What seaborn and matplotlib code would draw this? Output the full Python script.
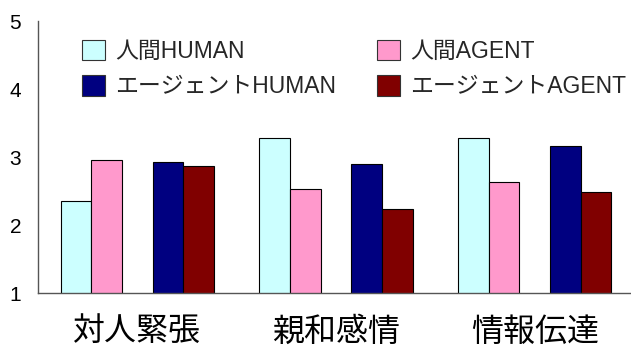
import matplotlib
matplotlib.use("Agg")
import matplotlib.pyplot as plt
import seaborn as sns
import pandas as pd
from matplotlib.patches import Patch
from matplotlib.ticker import MultipleLocator

categories = ["対人緊張", "親和感情", "情報伝達"]
series = ["人間HUMAN", "人間AGENT", "エージェントHUMAN", "エージェントAGENT"]
human_human = [2.35, 3.28, 3.28]
human_agent = [2.96, 2.54, 2.64]
agent_human = [2.93, 2.90, 3.16]
agent_agent = [2.87, 2.24, 2.49]
colors = ["#CCFFFF", "#FF99CC", "#000080", "#800000"]

sns.set_style("white")
plt.rcParams['font.family'] = ['Liberation Sans', 'Noto Sans CJK JP', 'DejaVu Sans']

rows = []
for s, vals in zip(series, [human_human, human_agent, agent_human, agent_agent]):
    for c, v in zip(categories, vals):
        rows.append({"cat": c, "series": s, "value": v})
df = pd.DataFrame(rows)

gap = " "
hue_order = [series[0], series[1], gap, series[2], series[3]]
palette = {series[0]: colors[0], series[1]: colors[1], gap: "white",
           series[2]: colors[2], series[3]: colors[3]}

fig = plt.figure(figsize=(6.31, 3.47), dpi=100)
ax = fig.add_axes([0.060, 0.155, 0.945, 0.7836])

sns.barplot(data=df, x="cat", y="value", hue="series", hue_order=hue_order,
            order=categories, palette=palette, width=0.77, ax=ax,
            edgecolor="black", linewidth=0.8, legend=False, saturation=1)
ax.set_ylim(1, 5)
ax.set_xlim(-0.5, 2.5)
ax.yaxis.set_major_locator(MultipleLocator(1))
ax.yaxis.set_minor_locator(MultipleLocator(0.5))
ax.set_xticks([0, 1, 2])
ax.set_xticklabels(categories, fontsize=23, color="black",
                   family=['Noto Sans CJK JP'])
ax.set_xticks([0.5, 1.5], minor=True)
ax.tick_params(axis="x", which="major", length=0, pad=16)
ax.tick_params(axis="x", which="minor", direction="in", length=5, color="#555555")
ax.tick_params(axis="y", which="both", direction="in", length=5, color="#555555",
               labelsize=15, pad=12, labelcolor="black")
ax.set_xlabel("")
ax.set_ylabel("")
for side in ["top", "right"]:
    ax.spines[side].set_visible(False)
for side in ["left", "bottom"]:
    ax.spines[side].set_color("#555555")
    ax.spines[side].set_linewidth(1.0)

handles = [Patch(facecolor=colors[i], edgecolor="#333333", linewidth=0.8) for i in range(4)]
order = [0, 2, 1, 3]
ax.legend([handles[i] for i in order], [series[i] for i in order], ncol=2,
          frameon=False, fontsize=16.5, loc="upper left",
          bbox_to_anchor=(0.043, 1.0), handlelength=1.0, handleheight=1.0,
          columnspacing=1.8, labelspacing=0.55, handletextpad=0.45,
          borderpad=0.3)

fig.savefig("out.png", dpi=100)
